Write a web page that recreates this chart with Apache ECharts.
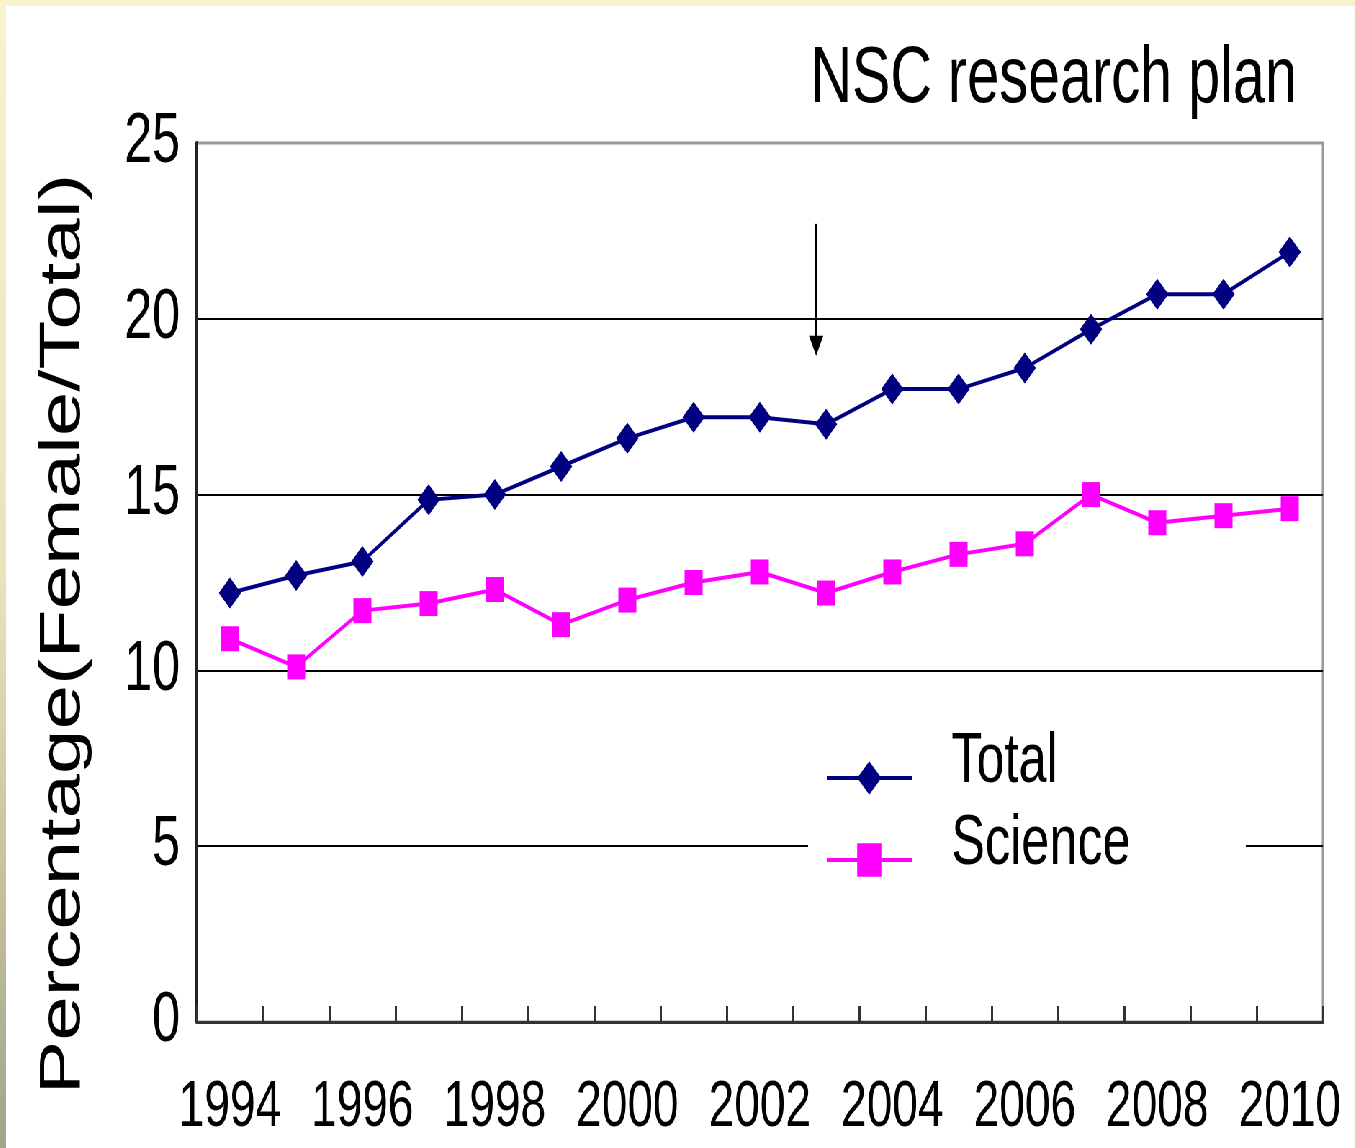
<!doctype html>
<html lang="en">
<head>
<meta charset="utf-8" />
<title>NSC research plan</title>
<script src="https://cdn.jsdelivr.net/npm/echarts@6/dist/echarts.min.js"></script>
<style>
    html, body { margin: 0; padding: 0; width: 1355px; height: 1148px; overflow: hidden; }
    body { background: linear-gradient(to bottom, #f7f3cd 0%, #e8e4ba 50%, #a3a388 100%); }
    /* the source picture is squeezed sideways, so the chart is drawn wide and scaled */
    #main { position: absolute; left: 6px; top: 6px; width: 1874px; height: 1142px; background: #fff;
            transform: scaleX(0.72); transform-origin: 0 0; }
</style>
</head>
<body>
<div id="main"></div>
<script type="text/javascript">
    const years = ['1994', '1995', '1996', '1997', '1998', '1999', '2000', '2001', '2002',
        '2003', '2004', '2005', '2006', '2007', '2008', '2009', '2010'];
    const totalPct = [12.2, 12.7, 13.1, 14.85, 15.0, 15.8, 16.6, 17.2, 17.2,
        17.0, 18.0, 18.0, 18.6, 19.7, 20.7, 20.7, 21.9];
    const sciencePct = [10.9, 10.1, 11.7, 11.9, 12.3, 11.3, 12.0, 12.5, 12.8,
        12.2, 12.8, 13.3, 13.6, 15.0, 14.2, 14.4, 14.6];
    const yTicks = [0, 5, 10, 15, 20, 25];
    // arrow: between 2002 and 2003, from 22.7 down to 18.95
    const arrowAt = { from: '2002', to: '2003', frac: 0.85, top: 22.7, tip: 18.95 };

    const font = "'Liberation Sans', Arial, sans-serif";
    const chart = echarts.init(document.getElementById('main'));

    const option = {
        animation: false,
        title: {
            text: 'NSC research plan',
            right: 81,
            top: 34,
            padding: 0,
            textStyle: { fontFamily: font, fontSize: 80, fontWeight: 'normal', color: '#000' }
        },
        legend: {
            orient: 'vertical',
            left: 1114,
            top: 712,
            backgroundColor: '#fff',
            padding: [10, 160, 10, 24],
            itemWidth: 118,
            itemHeight: 42,
            itemGap: 12,
            data: ['Total', 'Science'],
            lineStyle: { width: 'inherit' },
            formatter: '{t|{name}}',
            textStyle: {
                fontFamily: font, fontSize: 70, color: '#000', padding: [0, 0, 0, 50],
                rich: { t: { fontFamily: font, fontSize: 70, color: '#000', padding: [0, 0, 30, 0] } }
            }
        },
        grid: {
            show: true,
            left: 265,
            right: 45,
            top: 137,
            bottom: 126,
            borderColor: '#999',
            borderWidth: 3,
            containLabel: false
        },
        xAxis: {
            type: 'category',
            data: years,
            boundaryGap: true,
            axisLine: { lineStyle: { color: '#333', width: 3 } },
            axisTick: { show: true, inside: true, length: 16, interval: 0, lineStyle: { color: '#333', width: 3 } },
            axisLabel: { interval: 1, fontFamily: font, fontSize: 64, color: '#000', margin: 54 },
            splitLine: { show: false }
        },
        yAxis: {
            type: 'value',
            min: yTicks[0],
            max: yTicks[yTicks.length - 1],
            interval: 5,
            name: 'Percentage(Female/Total)',
            nameLocation: 'middle',
            nameGap: 145,
            nameTextStyle: { fontFamily: font, fontSize: 80, color: '#000', padding: [0, 103, 0, 0] },
            axisLine: { show: true, lineStyle: { color: '#222', width: 4 } },
            axisTick: { show: false },
            axisLabel: { fontFamily: font, fontSize: 70, color: '#000', margin: 23 },
            splitLine: { show: true, lineStyle: { color: ['#000', '#000', '#000', '#000', '#000', '#999'], width: 2 } }
        },
        series: [
            {
                name: 'Total',
                type: 'line',
                data: totalPct,
                symbol: 'diamond',
                symbolSize: 31,
                color: '#000080',
                lineStyle: { width: 4, color: '#000080' },
                itemStyle: { color: '#000080' },
                z: 3
            },
            {
                name: 'Science',
                type: 'line',
                data: sciencePct,
                symbol: 'rect',
                symbolSize: 25,
                color: '#ff00ff',
                lineStyle: { width: 4, color: '#ff00ff' },
                itemStyle: { color: '#ff00ff' },
                z: 2
            }
        ]
    };

    chart.setOption(option);

    // arrow placed through the axes
    let x0 = chart.convertToPixel({ xAxisIndex: 0 }, arrowAt.from);
    let x1 = chart.convertToPixel({ xAxisIndex: 0 }, arrowAt.to);
    let ax = x0 + arrowAt.frac * (x1 - x0);
    let yTop = chart.convertToPixel({ yAxisIndex: 0 }, arrowAt.top);
    let yTip = chart.convertToPixel({ yAxisIndex: 0 }, arrowAt.tip);

    chart.setOption({
        graphic: [
            {
                type: 'line',
                shape: { x1: ax, y1: yTop, x2: ax, y2: yTip - 18 },
                style: { stroke: '#000', lineWidth: 3 },
                z: 10
            },
            {
                type: 'polygon',
                shape: { points: [[ax - 10, yTip - 20], [ax + 10, yTip - 20], [ax, yTip]] },
                style: { fill: '#000' },
                z: 10
            }
        ]
    });
</script>
</body>
</html>
